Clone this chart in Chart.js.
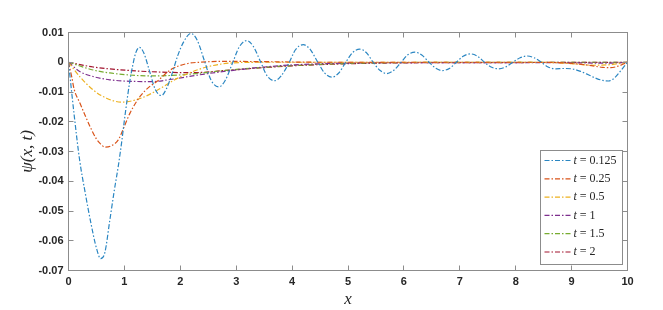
<!DOCTYPE html>
<html><head><meta charset="utf-8">
<script src="https://cdn.jsdelivr.net/npm/chart.js@4/dist/chart.umd.min.js"></script>
<style>html,body{margin:0;padding:0;background:#fff}#wrap{width:663px;height:310px;position:relative}</style>
</head><body><div id="wrap"><canvas id="c" width="663" height="310"></canvas></div>
<script>
// ---- data ----
const seriesLabels = ['t = 0.125', 't = 0.25', 't = 0.5', 't = 1', 't = 1.5', 't = 2'];
const xTickValues = [0, 1, 2, 3, 4, 5, 6, 7, 8, 9, 10];
const xTickLabels = ['0', '1', '2', '3', '4', '5', '6', '7', '8', '9', '10'];
const yTickValues = [-0.07, -0.06, -0.05, -0.04, -0.03, -0.02, -0.01, 0, 0.01];
const yTickLabels = ['-0.07', '-0.06', '-0.05', '-0.04', '-0.03', '-0.02', '-0.01', '0', '0.01'];

// t = 0.125
const xT0125 = [0, 0.1, 0.2, 0.3, 0.4, 0.5, 0.575, 0.65, 0.74, 0.82, 0.89, 0.95, 1.01, 1.1, 1.15, 1.2, 1.27, 1.35, 1.45, 1.55, 1.66, 1.75, 1.85, 1.95, 2.05, 2.19, 2.3, 2.44, 2.55, 2.69, 2.8, 2.94, 3.05, 3.19, 3.3, 3.44, 3.55, 3.69, 3.8, 3.95, 4.06, 4.2, 4.32, 4.46, 4.58, 4.71, 4.83, 4.96, 5.08, 5.21, 5.33, 5.45, 5.57, 5.69, 5.82, 5.95, 6.07, 6.2, 6.32, 6.45, 6.57, 6.69, 6.82, 6.94, 7.06, 7.19, 7.32, 7.44, 7.56, 7.69, 7.82, 7.95, 8.08, 8.21, 8.33, 8.46, 8.58, 8.72, 8.85, 9.0, 9.15, 9.3, 9.45, 9.56, 9.66, 9.76, 9.86, 9.94, 10];
const yT0125 = [0, -0.0175, -0.033, -0.044, -0.054, -0.0625, -0.066, -0.064, -0.053, -0.043, -0.035, -0.027, -0.018, -0.006, -0.001, 0.003, 0.005, 0.003, -0.003, -0.009, -0.0112, -0.009, -0.004, 0.002, 0.0065, 0.0097, 0.0075, 0, -0.006, -0.0083, -0.0062, 0, 0.005, 0.0073, 0.0055, 0, -0.0045, -0.0062, -0.0047, 0, 0.0042, 0.0059, 0.0044, 0, -0.0036, -0.005, -0.0037, 0, 0.0032, 0.0044, 0.0032, 0, -0.0027, -0.0038, -0.0027, 0, 0.0025, 0.0034, 0.0024, 0, -0.002, -0.0028, -0.002, 0, 0.002, 0.0028, 0.002, 0, -0.0016, -0.0022, -0.0016, 0, 0.0015, 0.0021, 0.0015, 0, -0.0016, -0.0022, -0.0021, -0.0022, -0.003, -0.0042, -0.0055, -0.0061, -0.0063, -0.0054, -0.0033, -0.0014, 0];

// t = 0.25
const xT025 = [0, 0.057, 0.1, 0.206, 0.3, 0.385, 0.5, 0.56, 0.65, 0.75, 0.89, 1.0, 1.1, 1.28, 1.45, 1.58, 1.82, 2.11, 2.35, 2.8, 3.5, 4.5, 6, 8, 8.7, 9.0, 9.3, 9.55, 9.7, 9.85, 10];
const yT025 = [0, -0.0048, -0.009, -0.0138, -0.018, -0.0216, -0.0258, -0.0272, -0.0285, -0.0282, -0.0261, -0.0215, -0.0171, -0.0115, -0.0082, -0.0065, -0.0026, -0.0005, 0, 0.0003, 0.0002, 0, 0, 0, -0.0001, -0.0004, -0.001, -0.0017, -0.0018, -0.0012, 0];

// t = 0.5
const xT05 = [0, 0.2, 0.44, 0.68, 0.95, 1.28, 1.58, 1.87, 2.05, 2.47, 2.95, 3.5, 5, 7, 8.5, 9.0, 9.4, 9.7, 10];
const yT05 = [0, -0.0048, -0.0093, -0.0121, -0.0134, -0.0122, -0.0095, -0.0062, -0.0045, -0.0016, -0.0002, 0, 0, 0, 0, -0.0005, -0.001, -0.0008, 0];

// t = 1
const xT1 = [0, 0.2, 0.44, 0.74, 1.1, 1.5, 1.82, 2.35, 2.95, 3.5, 4.0, 4.9, 6, 8, 9, 9.7, 10];
const yT1 = [0, -0.0031, -0.0048, -0.0059, -0.0064, -0.0065, -0.0058, -0.0042, -0.0027, -0.0016, -0.0009, -0.0003, -0.0001, -0.0001, -0.0002, -0.0003, 0];

// t = 1.5
const xT15 = [0, 0.44, 0.74, 1.04, 1.46, 2.05, 2.95, 3.5, 4, 5, 6, 8, 10];
const yT15 = [0, -0.0026, -0.0036, -0.0042, -0.0046, -0.0042, -0.0025, -0.0017, -0.0011, -0.0004, -0.0001, 0, 0];

// t = 2
const xT2 = [0, 0.44, 1.04, 1.64, 2.23, 2.83, 3.5, 4, 5, 6, 8, 10];
const yT2 = [0, -0.0016, -0.0027, -0.0033, -0.0035, -0.0027, -0.0018, -0.0012, -0.0005, -0.0002, -0.0001, 0];

const seriesX = [xT0125, xT025, xT05, xT1, xT15, xT2];
const seriesY = [yT0125, yT025, yT05, yT1, yT15, yT2];

// ---- styles ----
const seriesColors = ['#2a86c2', '#d95319', '#edb120', '#7e2f8e', '#77ac30', '#a2142f'];
const dashPattern = [5, 2, 1.5, 2];
const frameColor = '#8c8c8c';
const textColor = '#262626';

const datasets = seriesLabels.map((lab, i) => ({
  label: lab,
  data: seriesX[i].map((x, j) => ({x: x, y: seriesY[i][j]})),
  borderColor: seriesColors[i],
  borderWidth: 1.2,
  borderDash: dashPattern,
  pointRadius: 0,
  fill: false,
  cubicInterpolationMode: 'monotone'
}));

const framePlugin = {
  id: 'frame',
  afterDatasetsDraw(chart) {
    const {ctx, chartArea: ca, scales} = chart;
    const L = Math.floor(ca.left) + 0.5, R = Math.floor(ca.right) + 0.5;
    const T = Math.floor(ca.top) + 0.5, B = Math.floor(ca.bottom) + 0.5;
    const tl = 5;
    ctx.save();
    ctx.strokeStyle = frameColor;
    ctx.lineWidth = 1;
    ctx.setLineDash([]);
    ctx.strokeRect(L, T, R - L, B - T);
    ctx.beginPath();
    xTickValues.forEach(v => {
      const p = Math.floor(scales.x.getPixelForValue(v)) + 0.5;
      ctx.moveTo(p, B); ctx.lineTo(p, B - tl);
      ctx.moveTo(p, T); ctx.lineTo(p, T + tl);
    });
    yTickValues.forEach(v => {
      const p = Math.floor(scales.y.getPixelForValue(v)) + 0.5;
      ctx.moveTo(L, p); ctx.lineTo(L + tl, p);
      ctx.moveTo(R, p); ctx.lineTo(R - tl, p);
    });
    ctx.stroke();
    ctx.restore();
  },
  afterDraw(chart) {
    const ctx = chart.ctx;
    const bx = 540.5, by = 150.5, bw = 82, bh = 114;
    ctx.save();
    ctx.setLineDash([]);
    ctx.fillStyle = '#ffffff';
    ctx.fillRect(bx, by, bw, bh);
    ctx.strokeStyle = frameColor;
    ctx.lineWidth = 1;
    ctx.strokeRect(bx, by, bw, bh);
    chart.data.datasets.forEach((ds, i) => {
      const yy = by + 10 + i * 18.3;
      ctx.beginPath();
      ctx.setLineDash(ds.borderDash);
      ctx.strokeStyle = ds.borderColor;
      ctx.lineWidth = 1.2;
      ctx.moveTo(bx + 4, yy); ctx.lineTo(bx + 30, yy);
      ctx.stroke();
      ctx.setLineDash([]);
      const parts = ds.label.split(' = ');
      ctx.fillStyle = textColor;
      ctx.textBaseline = 'middle';
      ctx.textAlign = 'left';
      let tx = bx + 33;
      ctx.font = 'italic 12px "Liberation Serif"';
      ctx.fillText(parts[0], tx, yy);
      tx += ctx.measureText(parts[0]).width;
      ctx.font = '12px "Liberation Serif"';
      ctx.fillText(' = ' + parts[1], tx, yy);
    });
    ctx.restore();
  }
};

new Chart(document.getElementById('c'), {
  type: 'line',
  data: {datasets: datasets},
  options: {
    responsive: false,
    animation: false,
    layout: {padding: {top: 32.5, right: 35.5, left: 0, bottom: 0}},
    plugins: {legend: {display: false}, tooltip: {enabled: false}},
    scales: {
      x: {
        type: 'linear', min: 0, max: 10,
        afterBuildTicks: s => { s.ticks = xTickValues.map(v => ({value: v})); },
        afterFit: s => { s.height = 39.5; },
        grid: {display: false, drawTicks: false},
        border: {display: false},
        ticks: {
          padding: 5, maxRotation: 0, autoSkip: false,
          color: textColor,
          font: {family: '"Liberation Sans", Arial, sans-serif', size: 11, weight: 'bold'},
          callback: (v, i) => xTickLabels[i]
        },
        title: {
          display: true, text: 'x', color: textColor,
          font: {family: '"Liberation Serif", serif', size: 17, style: 'italic'},
          padding: {top: 0, bottom: 0}
        }
      },
      y: {
        type: 'linear', min: -0.07, max: 0.01,
        afterBuildTicks: s => { s.ticks = yTickValues.map(v => ({value: v})); },
        afterFit: s => { s.width = 68.5; },
        grid: {display: false, drawTicks: false},
        border: {display: false},
        ticks: {
          padding: 5, autoSkip: false,
          color: textColor,
          font: {family: '"Liberation Sans", Arial, sans-serif', size: 11, weight: 'bold'},
          callback: (v, i) => yTickLabels[i]
        },
        title: {
          display: true, text: 'ψ(x, t)', color: textColor,
          font: {family: '"Liberation Serif", serif', size: 17, style: 'italic'},
          padding: {top: 17, bottom: 0}
        }
      }
    }
  },
  plugins: [framePlugin]
});
</script>
</body></html>
